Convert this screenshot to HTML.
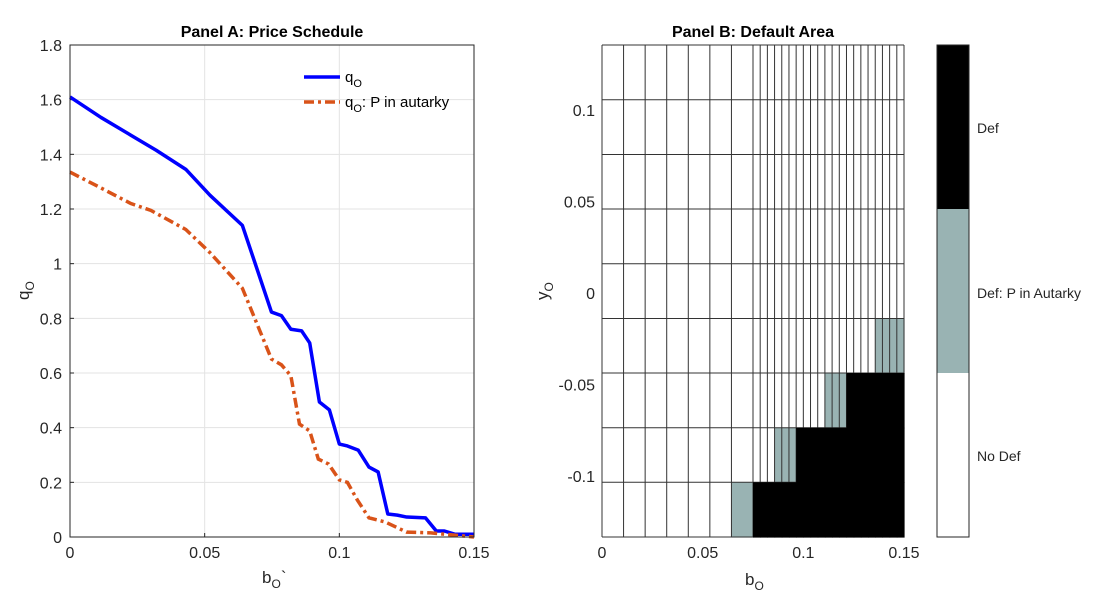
<!DOCTYPE html>
<html><head><meta charset="utf-8"><style>
body{margin:0;background:#fff;}
svg{display:block;font-family:"Liberation Sans",Arial,sans-serif;}
</style></head><body>
<svg id="fig" width="1100" height="603" viewBox="0 0 1100 603" xmlns="http://www.w3.org/2000/svg">
<rect width="1100" height="603" fill="#fff"/>
</svg>
<script>
// Panel A data
const bA = [0,0.0115,0.0226,0.032,0.043,0.052,0.064,0.0748,0.0785,0.082,0.086,0.089,0.0926,0.0963,0.1,0.103,0.107,0.111,0.1144,0.118,0.1215,0.125,0.132,0.136,0.139,0.143,0.15];
const qO = [1.61,1.535,1.47,1.415,1.345,1.25,1.14,0.823,0.81,0.76,0.754,0.71,0.494,0.465,0.34,0.333,0.318,0.256,0.238,0.084,0.08,0.073,0.07,0.022,0.022,0.01,0.01];
const bA2 = [0,0.0115,0.0226,0.03,0.043,0.052,0.064,0.0748,0.0785,0.082,0.0852,0.089,0.0922,0.096,0.1,0.103,0.1067,0.111,0.117,0.125,0.134,0.15];
const qAut = [1.335,1.277,1.22,1.195,1.125,1.04,0.91,0.651,0.63,0.59,0.413,0.388,0.285,0.267,0.209,0.2,0.135,0.07,0.055,0.018,0.015,0];
const xTicksA = [0,0.05,0.1,0.15];
const xTickLabelsA = ["0","0.05","0.1","0.15"];
const yTicksA = [0,0.2,0.4,0.6,0.8,1,1.2,1.4,1.6,1.8];
const yTickLabelsA = ["0","0.2","0.4","0.6","0.8","1","1.2","1.4","1.6","1.8"];
// Panel B data
const bGridB = [0,0.01071,0.02143,0.03214,0.04286,0.05357,0.06429,0.075,0.07857,0.08214,0.08571,0.08929,0.09286,0.09643,0.1,0.10357,0.10714,0.11071,0.11429,0.11786,0.12143,0.125,0.12857,0.13214,0.13571,0.13929,0.14286,0.14643,0.15];
const yGridB = [-0.1333,-0.1034,-0.0736,-0.0437,-0.0139,0.0160,0.0459,0.0757,0.1056,0.1355];
// per row (bottom to top): first column index that is autarky-default / default
const grayStart = [6,10,17,24,99,99,99,99,99];
const blackStart = [7,13,20,99,99,99,99,99,99];
const xTicksB = [0,0.05,0.1,0.15];
const xTickLabelsB = ["0","0.05","0.1","0.15"];
const yTicksB = [-0.1,-0.05,0,0.05,0.1];
const yTickLabelsB = ["-0.1","-0.05","0","0.05","0.1"];

const NS="http://www.w3.org/2000/svg";
const svg=document.getElementById('fig');
function mk(tag,attrs,parent,text){const e=document.createElementNS(NS,tag);for(const k in attrs)e.setAttribute(k,attrs[k]);if(text!==undefined)e.textContent=text;(parent||svg).appendChild(e);return e;}

// Panel A axes
const AL=70,AR=474,AT=45,AB=537;
const xA=v=>AL+(v-0)/0.15*(AR-AL);
const yA=v=>AB-v/1.8*(AB-AT);
const gA=mk('g',{});


xTicksA.forEach((t,i)=>{
  const l=mk('line',{x1:xA(t),x2:xA(t),y1:AT,y2:AB,stroke:'#e3e3e3','stroke-width':1},gA);
  
  mk('line',{x1:xA(t),x2:xA(t),y1:AB,y2:AB-4,stroke:'#262626'},gA);
  const tx=mk('text',{x:xA(t),y:AB+21,'text-anchor':'middle','font-size':16,fill:'#262626'},gA,xTickLabelsA[i]);
  
});
yTicksA.forEach((t,i)=>{
  const l=mk('line',{x1:AL,x2:AR,y1:yA(t),y2:yA(t),stroke:'#e3e3e3','stroke-width':1},gA);
  
  mk('line',{x1:AL,x2:AL+4,y1:yA(t),y2:yA(t),stroke:'#262626'},gA);
  const tx=mk('text',{x:AL-8,y:yA(t)+6,'text-anchor':'end','font-size':16,fill:'#262626'},gA,yTickLabelsA[i]);
  
});
const l1=mk('polyline',{points:bA.map((b,i)=>xA(b)+','+yA(qO[i])).join(' '),fill:'none',stroke:'#0000ff','stroke-width':3.5,'stroke-linejoin':'round'},gA);

const l2=mk('polyline',{points:bA2.map((b,i)=>xA(b)+','+yA(qAut[i])).join(' '),fill:'none',stroke:'#d95319','stroke-width':3.5,'stroke-dasharray':'10,4,3,4'},gA);

const boxA=mk('rect',{x:AL,y:AT,width:AR-AL,height:AB-AT,fill:'none',stroke:'#262626','stroke-width':1},gA);

// legend
const lg=mk('g',{},gA);
mk('line',{x1:304,x2:340,y1:77,y2:77,stroke:'#0000ff','stroke-width':3.5},lg);
const t1=mk('text',{x:345,y:82,'font-size':15,fill:'#000'},lg);
t1.innerHTML='q<tspan font-size="11" dy="5">O</tspan>';

mk('line',{x1:304,x2:340,y1:102,y2:102,stroke:'#d95319','stroke-width':3.5,'stroke-dasharray':'10,4,3,4'},lg);
const t2=mk('text',{x:345,y:107,'font-size':15,fill:'#000'},lg);
t2.innerHTML='q<tspan font-size="11" dy="5">O</tspan><tspan dy="-5">: P in autarky</tspan>';

const ta=mk('text',{x:272,y:37,'text-anchor':'middle','font-size':16,'font-weight':'bold',fill:'#000'},gA,'Panel A: Price Schedule');

const xla=mk('text',{x:262,y:583,'font-size':17,fill:'#262626'},gA);
xla.innerHTML='b<tspan font-size="12" dy="5">O</tspan><tspan dy="-5">`</tspan>';

const yla=mk('text',{x:0,y:0,'font-size':17,fill:'#262626',transform:'translate(29,300) rotate(-90)'},gA);
yla.innerHTML='q<tspan font-size="12" dy="5">O</tspan>';


// Panel B
const BL=602,BR=904,BT=45,BB=537;
const y0=yGridB[0],y1=yGridB[yGridB.length-1];
const xB=v=>BL+v/0.15*(BR-BL);
const yB=v=>BB-(v-y0)/(y1-y0)*(BB-BT);
const gB=mk('g',{});
function drawCells(kind){
  for(let r=0;r<yGridB.length-1;r++){
    for(let c=0;c<bGridB.length-1;c++){
      let col=null;
      if(c>=blackStart[r]){if(kind==='black')col='#000';}
      else if(c>=grayStart[r]){if(kind==='gray')col='#99b3b3';}
      if(col){const cell=mk('rect',{x:xB(bGridB[c]),y:yB(yGridB[r+1]),width:xB(bGridB[c+1])-xB(bGridB[c])+0.6,height:yB(yGridB[r])-yB(yGridB[r+1])+0.6,fill:col},gB);
        }
    }
  }
}
drawCells('gray');
bGridB.forEach(b=>{const l=mk('line',{x1:xB(b),x2:xB(b),y1:BT,y2:BB,stroke:'#333','stroke-width':1},gB);});
yGridB.forEach(y=>{const l=mk('line',{x1:BL,x2:BR,y1:yB(y),y2:yB(y),stroke:'#333','stroke-width':1},gB);});
drawCells('black');
xTicksB.forEach((t,i)=>{const tx=mk('text',{x:xB(t),y:BB+21,'text-anchor':'middle','font-size':16,fill:'#262626'},gB,xTickLabelsB[i]);});
yTicksB.forEach((t,i)=>{const tx=mk('text',{x:595,y:yB(t)+6,'text-anchor':'end','font-size':16,fill:'#262626'},gB,yTickLabelsB[i]);});
const tb=mk('text',{x:753,y:37,'text-anchor':'middle','font-size':16,'font-weight':'bold',fill:'#000'},gB,'Panel B: Default Area');

const xlb=mk('text',{x:745,y:585,'font-size':17,fill:'#262626'},gB);
xlb.innerHTML='b<tspan font-size="12" dy="5">O</tspan>';

const ylb=mk('text',{x:0,y:0,'font-size':17,fill:'#262626',transform:'translate(548,300) rotate(-90)'},gB);
ylb.innerHTML='y<tspan font-size="12" dy="5">O</tspan>';

// colorbar
const cb=mk('g',{});
mk('rect',{x:937,y:45,width:32,height:164,fill:'#000'},cb);
mk('rect',{x:937,y:209,width:32,height:164,fill:'#99b3b3'},cb);
mk('rect',{x:937,y:373,width:32,height:164,fill:'#fff'},cb);
mk('rect',{x:937,y:45,width:32,height:492,fill:'none',stroke:'#262626'},cb);
[['Def',133],['Def: P in Autarky',298],['No Def',461]].forEach(([s,y])=>{const t=mk('text',{x:977,y:y,'font-size':14,fill:'#262626'},cb,s);});
</script>
</body></html>
